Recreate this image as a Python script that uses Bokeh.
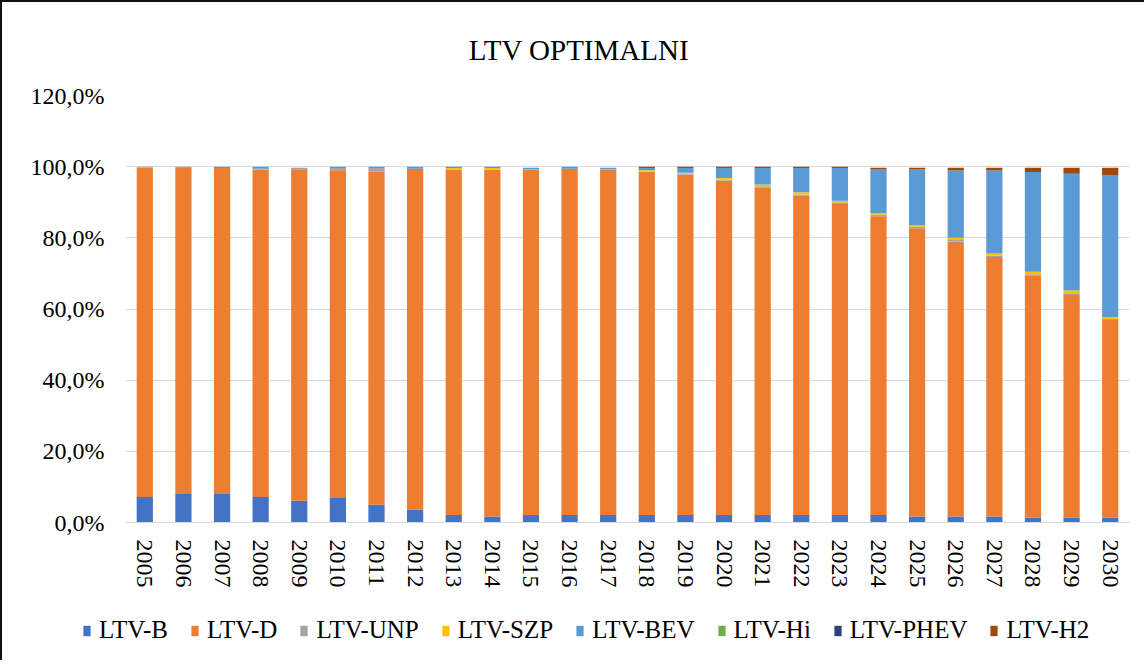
from bokeh.plotting import figure
from bokeh.layouts import column
from bokeh.models import (FactorRange, Range1d, FixedTicker, CustomJSTickFormatter,
                          Legend, LegendItem, Label)
from bokeh.embed import file_html
from bokeh.resources import INLINE

years = ["2005", "2006", "2007", "2008", "2009", "2010", "2011", "2012", "2013",
         "2014", "2015", "2016", "2017", "2018", "2019", "2020", "2021", "2022",
         "2023", "2024", "2025", "2026", "2027", "2028", "2029", "2030"]

ltv_b = [7.2, 8.0, 8.0, 7.2, 6.1, 6.9, 5.0, 3.6, 2.1, 1.7, 2.1, 2.1, 2.1,
         2.1, 2.1, 2.1, 2.1, 2.1, 2.1, 2.1, 1.7, 1.7, 1.7, 1.4, 1.4, 1.4]
ltv_d = [92.6, 91.6, 91.6, 92.0, 93.2, 92.1, 93.6, 95.8, 97.1, 97.5, 97.0, 97.3, 97.0,
         96.5, 95.7, 94.0, 92.0, 89.7, 87.4, 84.0, 81.0, 77.3, 72.9, 68.1, 62.5, 55.5]
ltv_unp = [0.2, 0.4, 0.0, 0.2, 0.4, 0.6, 1.0, 0.0, 0.0, 0.0, 0.2, 0.0, 0.2,
           0.0, 0.2, 0.3, 0.4, 0.4, 0.4, 0.4, 0.4, 0.4, 0.4, 0.3, 0.5, 0.3]
ltv_szp = [0.0, 0.0, 0.0, 0.0, 0.0, 0.0, 0.0, 0.0, 0.4, 0.4, 0.0, 0.0, 0.0,
           0.4, 0.3, 0.4, 0.5, 0.6, 0.5, 0.5, 0.5, 0.6, 0.6, 0.7, 0.8, 0.5]
ltv_bev = [0.0, 0.0, 0.4, 0.6, 0.0, 0.4, 0.4, 0.6, 0.4, 0.4, 0.4, 0.6, 0.4,
           0.6, 1.3, 2.8, 4.6, 6.8, 9.2, 12.2, 15.6, 18.9, 23.3, 28.0, 32.8, 39.8]
ltv_hi = [0.0] * 26
ltv_phev = [0.0] * 26
ltv_h2 = [0.0, 0.0, 0.0, 0.0, 0.0, 0.0, 0.0, 0.0, 0.0, 0.0, 0.0, 0.0, 0.0,
          0.4, 0.4, 0.4, 0.4, 0.4, 0.4, 0.5, 0.5, 0.8, 0.8, 1.2, 1.7, 2.2]

series = ["LTV-B", "LTV-D", "LTV-UNP", "LTV-SZP", "LTV-BEV", "LTV-Hi", "LTV-PHEV", "LTV-H2"]
colors = ["#4472C4", "#ED7D31", "#A5A5A5", "#FFC000", "#5B9BD5", "#70AD47", "#264478", "#9E480E"]
y_ticks = [0, 20, 40, 60, 80, 100, 120]
title_text = "LTV  OPTIMALNI"

FONT = "'Liberation Serif', serif"
BORDER = "2px solid #111111"
W = 1144
BAR_W = 0.42

data = {"year": years, "LTV-B": ltv_b, "LTV-D": ltv_d, "LTV-UNP": ltv_unp,
        "LTV-SZP": ltv_szp, "LTV-BEV": ltv_bev, "LTV-Hi": ltv_hi,
        "LTV-PHEV": ltv_phev, "LTV-H2": ltv_h2}

# ---- title strip ----
TH = 75
tfig = figure(width=W, height=TH, x_range=Range1d(0, W), y_range=Range1d(0, TH),
              x_axis_type=None, y_axis_type=None, min_border=0,
              output_backend="svg", toolbar_location=None,
              outline_line_color=None, background_fill_color="white",
              border_fill_color="white",
              styles={"border-left": BORDER, "border-top": BORDER})
tfig.frame_align = False
tfig.add_layout(Label(x=580, y=28, text=title_text, text_font=FONT,
                      text_font_size="29px", text_align="center",
                      text_baseline="middle", text_color="#000000"))

# ---- main chart ----
p = figure(x_range=FactorRange(factors=years, range_padding=0),
           y_range=Range1d(0, 120),
           width=W, height=532,
           output_backend="svg", toolbar_location=None,
           min_border_left=123, min_border_right=17,
           min_border_top=20, min_border_bottom=85,
           background_fill_color="white", border_fill_color="white",
           outline_line_color=None,
           styles={"border-left": BORDER})

p.vbar_stack(series, x="year", width=BAR_W, source=data,
             color=colors, line_color=None)

p.yaxis.ticker = FixedTicker(ticks=y_ticks)
p.yaxis.formatter = CustomJSTickFormatter(code="return tick.toFixed(1).replace('.', ',') + '%';")
p.yaxis.axis_line_color = None
p.yaxis.major_tick_line_color = None
p.yaxis.minor_tick_line_color = None
p.yaxis.major_tick_out = 0
p.yaxis.major_label_standoff = 21
p.yaxis.major_label_text_font = FONT
p.yaxis.major_label_text_font_size = "24px"
p.yaxis.major_label_text_color = "#000000"

p.xaxis.axis_line_color = "#D9D9D9"
p.xaxis.major_tick_line_color = None
p.xaxis.minor_tick_line_color = None
p.xaxis.major_tick_out = 0
p.xaxis.major_label_orientation = "vertical"
p.xaxis.major_label_standoff = 17
p.xaxis.major_label_text_font = FONT
p.xaxis.major_label_text_font_size = "24px"
p.xaxis.major_label_text_color = "#000000"

p.xgrid.grid_line_color = None
p.ygrid.grid_line_color = "#D9D9D9"
p.ygrid.grid_line_width = 1

# ---- legend strip (same stacked series, drawn outside its visible range) ----
LH = 53
lfig = figure(width=W, height=LH, x_range=FactorRange(factors=years, range_padding=0),
              y_range=Range1d(200, 200 + LH),
              x_axis_type=None, y_axis_type=None, min_border=0,
              output_backend="svg", toolbar_location=None,
              outline_line_color=None, background_fill_color="white",
              border_fill_color="white",
              styles={"border-left": BORDER})
lfig.frame_align = False
lrenderers = lfig.vbar_stack(series, x="year", width=BAR_W, source=data,
                             color=colors, line_color=None)
items = [LegendItem(label=s, renderers=[r]) for s, r in zip(series, lrenderers)]
legend = Legend(items=items, orientation="horizontal", location=(80, 16),
                glyph_width=9, glyph_height=13, label_standoff=8, spacing=22,
                padding=0, margin=0, border_line_color=None,
                background_fill_alpha=0,
                label_text_font=FONT, label_text_font_size="25px",
                label_text_color="#000000")
lfig.add_layout(legend)

layout = column(tfig, p, lfig)

open("out.html", "w").write(file_html(layout, INLINE))
